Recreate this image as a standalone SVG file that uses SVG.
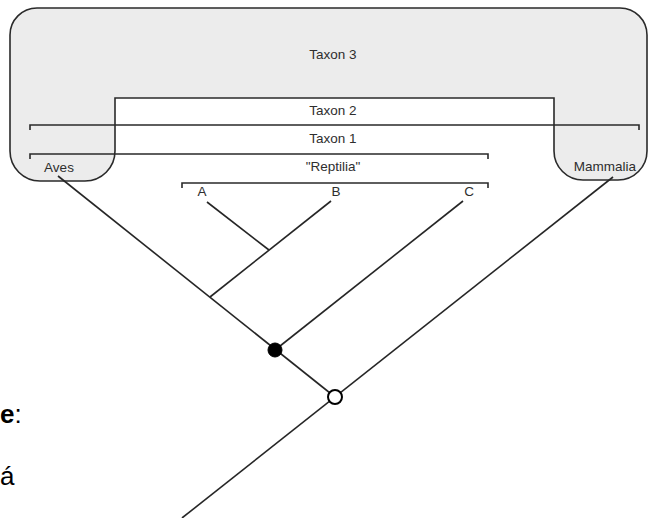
<svg xmlns="http://www.w3.org/2000/svg" width="649" height="518" viewBox="0 0 649 518">
  <style>
    .lbl { font-family: "Liberation Sans", Arial, sans-serif; font-size: 13.5px; fill: #2e2e2e; text-anchor: middle; }
    .brk { fill: none; stroke: #2a2a2a; stroke-width: 1.6; }
    .edge { fill: none; stroke: #262626; stroke-width: 1.6; }
    .frag { font-family: "Liberation Sans", Arial, sans-serif; font-size: 26px; fill: #000; }
  </style>
  <rect width="649" height="518" fill="#ffffff"/>

  <g id="taxon3">
    <path d="M 37 8 H 620 A 27 27 0 0 1 647 35 V 151 A 29 29 0 0 1 618 180 H 583 A 29 29 0 0 1 554 151 V 98 H 115 V 151 A 30 30 0 0 1 85 181 H 40 A 30 30 0 0 1 10 151 V 35 A 27 27 0 0 1 37 8 Z" fill="#ececec" stroke="#2a2a2a" stroke-width="1.6"/>
    <text class="lbl" x="333" y="59">Taxon 3</text>
  </g>

  <g id="taxon2">
    <path class="brk" d="M 30 130 V 125 H 639 V 130"/>
    <text class="lbl" x="333" y="115">Taxon 2</text>
  </g>

  <g id="taxon1">
    <path class="brk" d="M 30 159 V 154 H 488 V 159"/>
    <text class="lbl" x="333" y="143">Taxon 1</text>
  </g>

  <g id="reptilia">
    <path class="brk" d="M 182 188 V 183 H 488 V 188"/>
    <text class="lbl" x="333" y="171">"Reptilia"</text>
  </g>

  <g id="aves"><text class="lbl" x="59" y="172">Aves</text></g>
  <g id="mammalia"><text class="lbl" x="605" y="171">Mammalia</text></g>
  <g id="a"><text class="lbl" x="202" y="196">A</text></g>
  <g id="b"><text class="lbl" x="336" y="196">B</text></g>
  <g id="c"><text class="lbl" x="469" y="196">C</text></g>

  <g id="connectors">
    <line class="edge" x1="58" y1="176" x2="335" y2="397"/>
    <line class="edge" x1="207" y1="202" x2="269" y2="250"/>
    <line class="edge" x1="331" y1="201" x2="210" y2="297"/>
    <line class="edge" x1="463" y1="201" x2="275" y2="350"/>
    <line class="edge" x1="613" y1="177" x2="182" y2="518"/>
  </g>

  <g id="node-filled"><circle cx="275" cy="350" r="7" fill="#000" stroke="#000" stroke-width="1"/></g>
  <g id="node-open"><circle cx="335" cy="397" r="7" fill="#fff" stroke="#000" stroke-width="2"/></g>

  <g id="fragments">
    <text class="frag" x="0" y="423"><tspan font-weight="bold">e</tspan>:</text>
    <text class="frag" x="0" y="485">á</text>
  </g>
</svg>
